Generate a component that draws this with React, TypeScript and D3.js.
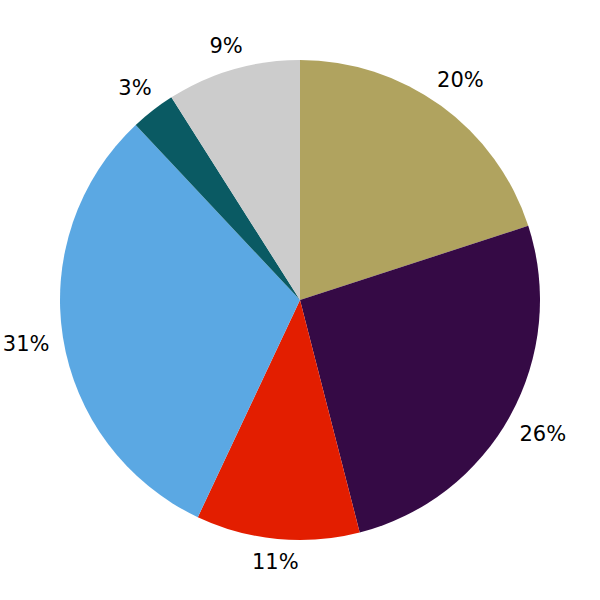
import React from "react";
import * as d3 from "d3";

const labels = ["20%", "26%", "11%", "31%", "3%", "9%"];
const values = [20, 26, 11, 31, 3, 9];
const colors = ["#b0a35f", "#350a45", "#e31e00", "#5ba8e3", "#0a5a63", "#cccccc"];

export default function App() {
  const W = 600, H = 600, cx = 300, cy = 300, R = 240;
  const fs = 21;
  const pie = d3.pie<number>().sort(null).value((d) => d)(values);
  const arc = d3.arc<d3.PieArcDatum<number>>().innerRadius(0).outerRadius(R);
  return (
    <svg width={W} height={H} style={{ position: "absolute", left: 0, top: 0, background: "#fff" }}>
      <g transform={`translate(${cx},${cy})`}>
        {pie.map((p, i) => (
          <path key={i} d={arc(p) || ""} fill={colors[i]} />
        ))}
        {pie.map((p, i) => {
          const a = (p.startAngle + p.endAngle) / 2;
          const s = Math.sin(a), c = Math.cos(a);
          const t = labels[i];
          const nd = t.length - 1;
          const halfW = ((nd * 0.636 + 0.95) * fs) / 2;
          const halfH = (0.729 * fs) / 2;
          const r = 253 + halfW * Math.abs(s) + halfH * Math.abs(c);
          const x = r * s;
          const y = -r * c;
          return (
            <text
              key={"t" + i}
              x={x}
              y={y + halfH}
              textAnchor="middle"
              fontFamily="DejaVu Sans"
              fontSize={fs}
              fill="#000"
            >
              {t}
            </text>
          );
        })}
      </g>
    </svg>
  );
}
